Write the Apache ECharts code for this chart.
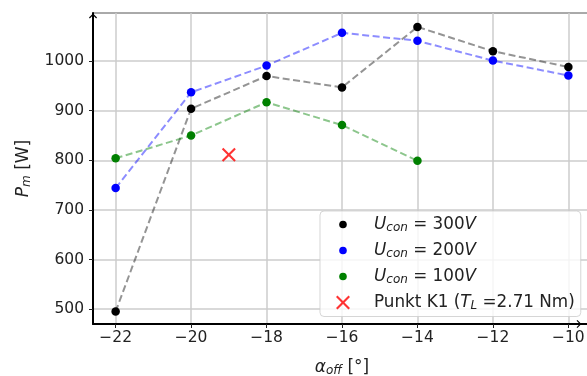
<!DOCTYPE html>
<html>
<head>
<meta charset="utf-8">
<script src="https://cdn.jsdelivr.net/npm/echarts@6/dist/echarts.min.js"></script>
<style>html,body{margin:0;padding:0;background:#fff}#c{width:587px;height:376px}</style>
</head>
<body>
<div id="c"></div>
<script>
// ---- data ----
const alphaOff = [-22, -20, -18, -16, -14, -12, -10];
const pm300 = [495, 904, 970, 947, 1069, 1020, 988];
const pm200 = [744, 937, 991, 1057, 1041, 1001, 971];
const alphaOff100 = [-22, -20, -18, -16, -14];
const pm100 = [804, 850, 917, 871, 799];
const punktK1 = [[-19, 811]];
const xTicks = [-22, -20, -18, -16, -14, -12, -10];
const yTicks = [500, 600, 700, 800, 900, 1000];
const seriesNames = ['U300', 'U200', 'U100', 'K1'];

const FONT = 'DejaVu Sans';
const FS = 15.5;
function makeRich(size, subSize, pad) {
  return {
    i: {fontFamily: FONT, fontSize: size, fontStyle: 'italic', color: '#222'},
    s: {fontFamily: FONT, fontSize: subSize, fontStyle: 'italic', color: '#222', padding: [pad, 0, 0, 0]},
    n: {fontFamily: FONT, fontSize: size, color: '#222'}
  };
}
const legendRich = makeRich(16.8, 12, 6);
const nameRich = makeRich(17, 12, 7);
const legendText = {
  U300: '{i|U}{s|con}{n| = 300}{i|V}',
  U200: '{i|U}{s|con}{n| = 200}{i|V}',
  U100: '{i|U}{s|con}{n| = 100}{i|V}',
  K1: '{n|Punkt K1 (}{i|T}{s|L}{n| =2.71 Nm)}'
};
const circleIcon = 'path://M0,0M38,14M8.2,7A3.8,3.8,0,1,0,15.8,7A3.8,3.8,0,1,0,8.2,7Z';
const xIcon = 'path://M0,0M38,14M6.5,0L12,5.5L17.5,0L19,1.5L13.5,7L19,12.5L17.5,14L12,8.5L6.5,14L5,12.5L10.5,7L5,1.5Z';
const xMarker = 'path://M1.5,0L7,5.5L12.5,0L14,1.5L8.5,7L14,12.5L12.5,14L7,8.5L1.5,14L0,12.5L5.5,7L0,1.5Z';
const arrowPath = 'path://M5,0L10,5L9,6L5,2L1,6L0,5Z';

const pairs = (xs, ys) => xs.map((x, i) => [x, ys[i]]);

const chart = echarts.init(document.getElementById('c'));
chart.setOption({
  animation: false,
  textStyle: {fontFamily: FONT},
  grid: {left: 93, top: 13, right: -4, bottom: 52, outerBoundsMode: 'none', containLabel: false,
    show: true, borderColor: '#555', borderWidth: 1, backgroundColor: 'transparent'},
  xAxis: {
    type: 'value', min: -22.6, max: -9.4,
    axisLine: {lineStyle: {color: '#000', width: 2}, symbol: ['none', arrowPath], symbolSize: [8, 8], symbolOffset: [0, -12]},
    axisTick: {show: true, length: 4, lineStyle: {color: '#222'}, customValues: xTicks},
    axisLabel: {customValues: xTicks, fontFamily: FONT, fontSize: FS, color: '#222', margin: 6,
      formatter: v => String(v).replace('-', '\u2212')},
    splitLine: {show: true, lineStyle: {color: '#cccccc', width: 1.5}},
    name: '{i|α}{s|off}{n| [°]}', nameLocation: 'middle', nameGap: 34,
    nameTextStyle: {rich: nameRich}
  },
  yAxis: {
    type: 'value', min: 470, max: 1097,
    axisLine: {show: true, lineStyle: {color: '#000', width: 2}, symbol: ['none', arrowPath], symbolSize: [8, 8], symbolOffset: [0, -3]},
    axisTick: {show: true, length: 4, lineStyle: {color: '#222'}, customValues: yTicks},
    axisLabel: {customValues: yTicks, fontFamily: FONT, fontSize: FS, color: '#222', margin: 9,
      formatter: v => String(v)},
    splitLine: {show: true, lineStyle: {color: '#cccccc', width: 1.5}},
    name: '{i|P}{s|m}{n| [W]}', nameLocation: 'middle', nameGap: 60, nameRotate: 90,
    nameTextStyle: {rich: nameRich}
  },
  legend: {
    orient: 'vertical', left: 320, top: 211,
    padding: [5, 6, 5, 11], itemGap: 8.5,
    itemWidth: 38, itemHeight: 14,
    backgroundColor: 'rgba(255,255,255,0.8)', borderColor: 'rgba(204,204,204,0.8)', borderWidth: 1, borderRadius: 4,
    data: [
      {name: 'U300', icon: circleIcon},
      {name: 'U200', icon: circleIcon},
      {name: 'U100', icon: circleIcon},
      {name: 'K1', icon: xIcon}
    ],
    formatter: name => legendText[name],
    textStyle: {rich: legendRich, fontFamily: FONT, fontSize: 16.8}
  },
  series: [
    {name: seriesNames[0], type: 'line', data: pairs(alphaOff, pm300), symbol: 'circle', symbolSize: 8.5,
      itemStyle: {color: '#000000'}, lineStyle: {color: 'rgba(0,0,0,0.42)', width: 2, type: [7, 3.5]}},
    {name: seriesNames[1], type: 'line', data: pairs(alphaOff, pm200), symbol: 'circle', symbolSize: 8.5,
      itemStyle: {color: '#0000ff'}, lineStyle: {color: 'rgba(0,0,255,0.45)', width: 2, type: [7, 3.5]}},
    {name: seriesNames[2], type: 'line', data: pairs(alphaOff100, pm100), symbol: 'circle', symbolSize: 8.5,
      itemStyle: {color: '#008000'}, lineStyle: {color: 'rgba(0,128,0,0.45)', width: 2, type: [7, 3.5]}},
    {name: seriesNames[3], type: 'scatter', data: punktK1, symbol: xMarker, symbolSize: 14,
      itemStyle: {color: '#ff0000'}}
  ]
});
</script>
</body>
</html>
